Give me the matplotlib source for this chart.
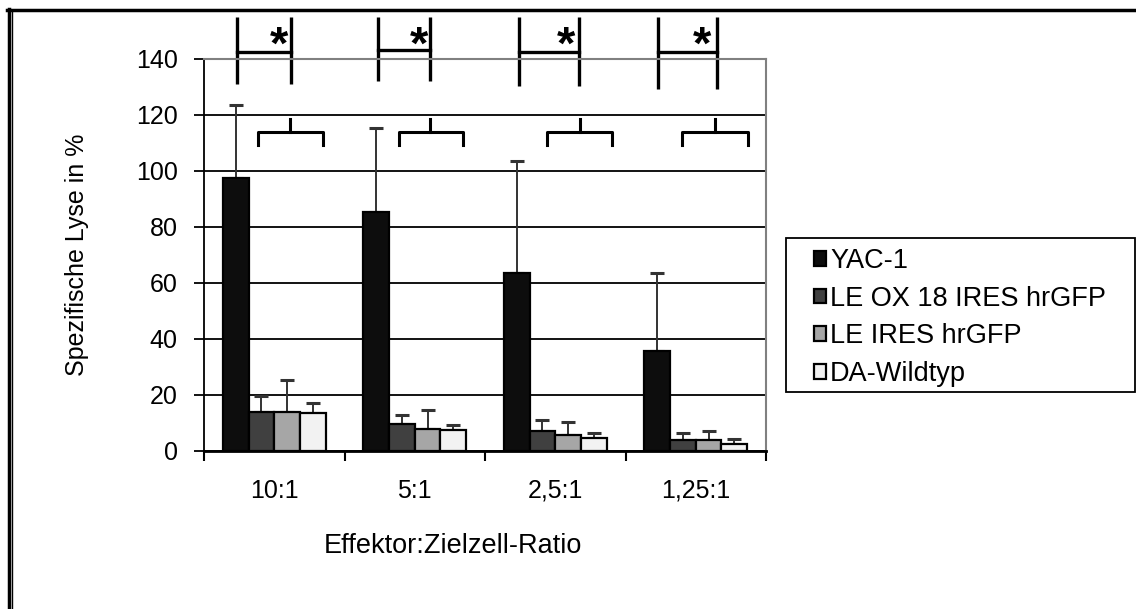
import matplotlib
matplotlib.use("Agg")
import matplotlib.pyplot as plt
import numpy as np
from matplotlib.lines import Line2D
from matplotlib.patches import Rectangle

plt.rcParams['font.family'] = ['Liberation Sans', 'DejaVu Sans']

categories = ["10:1", "5:1", "2,5:1", "1,25:1"]
series = ["YAC-1", "LE OX 18 IRES hrGFP", "LE IRES hrGFP", "DA-Wildtyp"]
yac1 = [97.5, 85.4, 63.7, 35.8]
le_ox18 = [13.8, 9.8, 7.1, 3.8]
le_ires = [13.8, 8.0, 5.8, 3.9]
da_wildtyp = [13.4, 7.5, 4.8, 2.6]
yac1_err = [26.0, 30.0, 40.0, 27.8]
le_ox18_err = [5.8, 3.2, 4.0, 2.6]
le_ires_err = [11.6, 6.6, 4.4, 3.2]
da_wildtyp_err = [3.6, 1.9, 1.8, 1.7]
yticks = [0, 20, 40, 60, 80, 100, 120, 140]

values = [yac1, le_ox18, le_ires, da_wildtyp]
errors = [yac1_err, le_ox18_err, le_ires_err, da_wildtyp_err]
colors = ["#0d0d0d", "#404040", "#a6a6a6", "#f2f2f2"]

W, H = 1136, 609
fig = plt.figure(figsize=(W / 100, H / 100), dpi=100)
ax = fig.add_axes([204 / W, 1 - 451 / H, (766 - 204) / W, 392 / H])

x = np.arange(len(categories))
bw = 0.183
for i, (vals, errs, c) in enumerate(zip(values, errors, colors)):
    pos = x + (i - 1.5) * bw
    ax.bar(pos, vals, width=bw, color=c, edgecolor="black", linewidth=1.6,
           label=series[i], zorder=3)
    ax.errorbar(pos, vals, yerr=[np.zeros(len(errs)), errs], fmt="none",
                ecolor="#333333", elinewidth=1.4, capsize=5, capthick=2.2,
                zorder=2)

ax.set_xlim(-0.5, len(categories) - 0.5)
ax.set_ylim(0, 140)
ax.set_yticks(yticks)
ax.set_yticklabels([str(t) for t in yticks], fontsize=18)
ax.yaxis.grid(True, color="black", linewidth=1.3, zorder=0)
ax.set_axisbelow(True)

ax.set_xticks(x)
ax.set_xticklabels(categories, fontsize=18)
ax.set_xticks(np.arange(len(categories) + 1) - 0.5, minor=True)
ax.tick_params(axis="x", which="major", length=0, pad=20)
ax.tick_params(axis="x", which="minor", length=7, width=1.5, direction="out")
ax.tick_params(axis="y", length=7, width=1.3, direction="out", pad=12)

ax.spines["left"].set_color("black")
ax.spines["left"].set_linewidth(1.3)
ax.spines["bottom"].set_color("black")
ax.spines["bottom"].set_linewidth(2)
for s in ("top", "right"):
    ax.spines[s].set_color("#808080")
    ax.spines[s].set_linewidth(1.5)

ax.set_ylabel("Spezifische Lyse in %", fontsize=18)
ax.yaxis.set_label_coords((89 - 204) / 562, 0.5)
ax.set_xlabel("Effektor:Zielzell-Ratio", fontsize=19.5)
ax.xaxis.set_label_coords((453 - 204) / 562, (451 - 533) / 392)

# significance brackets (offsets in pixels relative to group centre)
cat_px = (766 - 204) / len(categories)
br_left = [-37.3, -37.2, -36.1, -37.9]
br_right = [16.3, 15.3, 23.8, 20.9]
br_low = [131.0, 132.1, 130.4, 129.3]
br_mid = [142.5, 143.2, 142.5, 142.5]
star_off = [5.2, 4.2, 10.9, 6.5]
brace_l = [-16.2, -16.1, -8.4, -13.9]
brace_r = [48.9, 47.9, 57.1, 52.4]
brace_c = [15.6, 15.7, 24.6, 19.1]
for g in range(len(categories)):
    xl = g + br_left[g] / cat_px
    xr = g + br_right[g] / cat_px
    for xx in (xl, xr):
        ax.plot([xx, xx], [br_low[g], 155], color="black", lw=2.4,
                clip_on=False, solid_capstyle="butt")
    ax.plot([xl, xr], [br_mid[g], br_mid[g]], color="black", lw=2.4,
            clip_on=False)
    ax.text(g + star_off[g] / cat_px, 144.3, "*", fontsize=34,
            fontweight="bold", ha="center", va="center", clip_on=False)
    bl = g + brace_l[g] / cat_px
    brr = g + brace_r[g] / cat_px
    bc = g + brace_c[g] / cat_px
    ax.plot([bl, bl, brr, brr], [109.3, 114, 114, 109.3], color="black",
            lw=2.2, clip_on=False, solid_joinstyle="round")
    ax.plot([bc, bc], [114, 118.6], color="black", lw=2.2, clip_on=False)

# legend
fig.add_artist(Rectangle((786 / W, 1 - 392 / H), (1134.5 - 786) / W,
                         (392 - 238) / H, transform=fig.transFigure,
                         facecolor="white", edgecolor="black", lw=1.3))
leg = fig.legend(loc="upper left", bbox_to_anchor=(814 / W, 1 - 248 / H),
                 fontsize=19.5, frameon=False,
                 handlelength=0.45, handleheight=0.45, handletextpad=0.15,
                 labelspacing=0.43, borderpad=0, borderaxespad=0)
for p in leg.get_patches():
    p.set_linewidth(1.6)

# outer frame (top and left double line)
fig.add_artist(Line2D([7 / W, 1], [1 - 10 / H, 1 - 10 / H], color="black",
                      lw=2.5, transform=fig.transFigure))
fig.add_artist(Line2D([8.5 / W, 8.5 / W], [0, 1 - 9 / H], color="black",
                      lw=2.5, transform=fig.transFigure))
fig.add_artist(Line2D([11.5 / W, 11.5 / W], [0, 1 - 11 / H], color="black",
                      lw=1.0, transform=fig.transFigure))

fig.savefig("out.png", dpi=100)
